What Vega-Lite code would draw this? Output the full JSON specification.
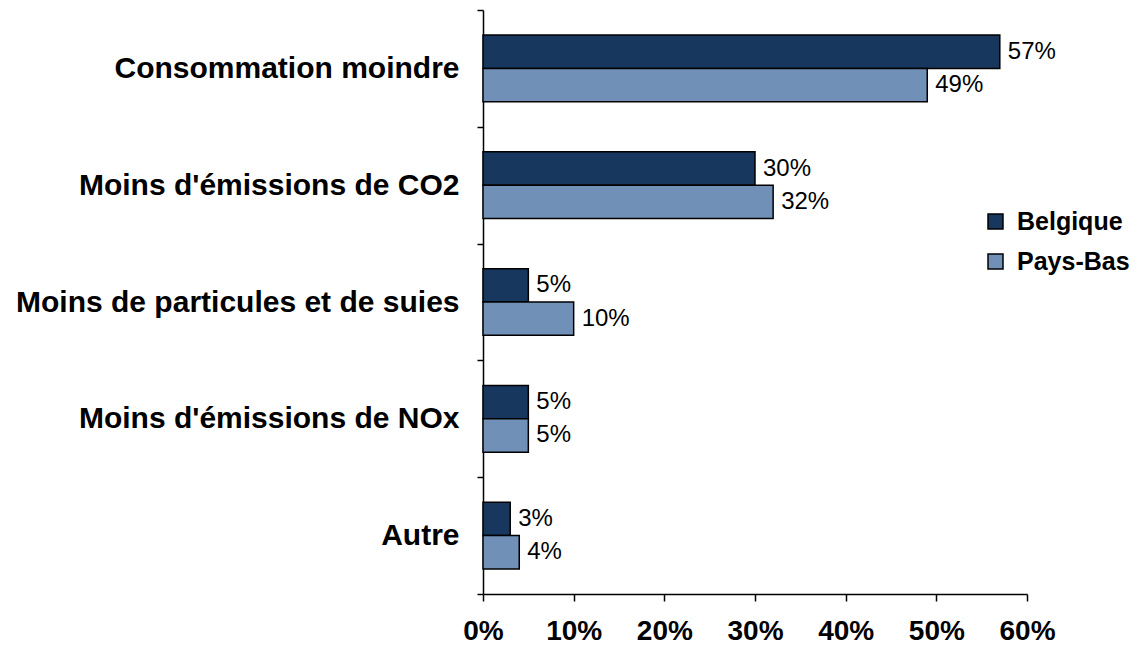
{
  "$schema": "https://vega.github.io/schema/vega-lite/v6.json",
  "width": 544,
  "height": 584,
  "autosize": {"type": "none"},
  "padding": {"left": 483, "top": 10, "right": 120, "bottom": 51},
  "background": "white",
  "data": {"values": [
    {"cat": "Consommation moindre", "pays": "Belgique", "v": 57},
    {"cat": "Consommation moindre", "pays": "Pays-Bas", "v": 49},
    {"cat": "Moins d'émissions de CO2", "pays": "Belgique", "v": 30},
    {"cat": "Moins d'émissions de CO2", "pays": "Pays-Bas", "v": 32},
    {"cat": "Moins de particules et de suies", "pays": "Belgique", "v": 5},
    {"cat": "Moins de particules et de suies", "pays": "Pays-Bas", "v": 10},
    {"cat": "Moins d'émissions de NOx", "pays": "Belgique", "v": 5},
    {"cat": "Moins d'émissions de NOx", "pays": "Pays-Bas", "v": 5},
    {"cat": "Autre", "pays": "Belgique", "v": 3},
    {"cat": "Autre", "pays": "Pays-Bas", "v": 4}
  ]},
  "transform": [{"calculate": "datum.v + '%'", "as": "lbl"}],
  "config": {
    "view": {"stroke": null},
    "axis": {"domainColor": "black", "tickColor": "black", "domainWidth": 1.5, "tickWidth": 1.5, "grid": false, "labelColor": "black"}
  },
  "encoding": {
    "y": {"field": "cat", "type": "nominal", "sort": null, "title": null,
      "scale": {"paddingInner": 0, "paddingOuter": 0},
      "axis": {"tickBand": "extent", "tickSize": 6, "labelPadding": 18, "labelFont": "Liberation Sans", "labelFontWeight": "bold", "labelFontSize": 30, "labelLimit": 600}},
    "yOffset": {"field": "pays", "type": "nominal", "scale": {"paddingInner": 0, "paddingOuter": 0.75}},
    "x": {"field": "v", "type": "quantitative", "title": null,
      "scale": {"domain": [0, 60], "nice": false},
      "axis": {"values": [0, 10, 20, 30, 40, 50, 60], "labelExpr": "datum.value + '%'", "tickSize": 7, "labelPadding": 16, "labelFont": "Liberation Sans", "labelFontWeight": "bold", "labelFontSize": 28, "labelFlush": false}}
  },
  "layer": [
    {"mark": {"type": "bar", "stroke": "black", "strokeWidth": 1.5},
     "encoding": {"color": {"field": "pays", "type": "nominal", "title": null,
       "scale": {"domain": ["Belgique", "Pays-Bas"], "range": ["#17375E", "#7190B8"]},
       "legend": {"orient": "none", "legendX": 500, "legendY": 199, "padding": 0, "symbolType": "square", "symbolSize": 225, "symbolStrokeColor": "black", "symbolStrokeWidth": 1.5, "labelFont": "Liberation Sans", "labelFontWeight": "bold", "labelFontSize": 25, "labelColor": "black", "rowPadding": 14, "labelOffset": 9}}}},
    {"mark": {"type": "text", "align": "left", "dx": 8, "font": "Liberation Sans", "fontSize": 24, "color": "black"},
     "encoding": {"text": {"field": "lbl", "type": "nominal"}, "detail": {"field": "pays"}}}
  ]
}
